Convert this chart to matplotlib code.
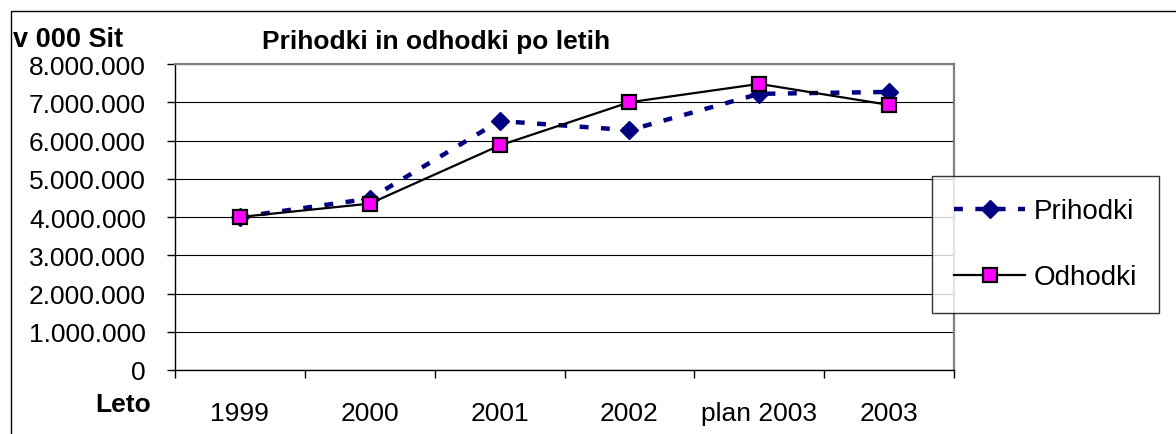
import matplotlib.pyplot as plt
import matplotlib.patches as patches
from matplotlib.ticker import FuncFormatter, FixedLocator

plt.rcParams['font.family'] = ['Liberation Sans', 'DejaVu Sans']

leta = ['1999', '2000', '2001', '2002', 'plan 2003', '2003']
prihodki = [4000000, 4480000, 6510000, 6270000, 7220000, 7270000]
odhodki = [4000000, 4350000, 5870000, 7000000, 7480000, 6930000]

W, H = 1176, 435
fig = plt.figure(figsize=(W / 100, H / 100), dpi=100)
ax = fig.add_axes([175 / W, 1 - 371 / H, (954 - 175) / W, (371 - 65) / H])

x = list(range(len(leta)))
ax.plot(x, prihodki, color='#000080', lw=3.2, dashes=(2.0, 2.8),
        marker='D', markersize=9, markeredgecolor='#000080', label='Prihodki', zorder=3)
ax.plot(x, odhodki, color='black', lw=1.6,
        marker='s', markersize=10, markerfacecolor='#ff00ff', markeredgecolor='black',
        markeredgewidth=1.6, label='Odhodki', zorder=4)

ax.set_xlim(-0.5, len(leta) - 0.5)
ax.set_ylim(0, 8000000)
ax.set_yticks(range(0, 8000001, 1000000))
ax.yaxis.set_major_formatter(FuncFormatter(lambda v, p: f'{int(v):,}'.replace(',', '.')))
ax.set_xticks(x)
ax.set_xticklabels(leta)
ax.xaxis.set_minor_locator(FixedLocator([i - 0.5 for i in range(len(leta) + 1)]))
ax.tick_params(axis='x', which='major', length=0, pad=22, labelsize=19)
ax.tick_params(axis='x', which='minor', length=6, width=1, direction='out')
ax.tick_params(axis='y', length=6, width=1, direction='out', pad=15, labelsize=19)

ax.grid(axis='y', color='black', lw=0.8)
ax.set_axisbelow(True)
for s in ['top', 'right']:
    ax.spines[s].set_color('#808080')
    ax.spines[s].set_linewidth(1.6)
for s in ['left', 'bottom']:
    ax.spines[s].set_color('black')
    ax.spines[s].set_linewidth(1)

fig.text(262 / W, 1 - 49 / H, 'Prihodki in odhodki po letih', fontsize=19,
         fontweight='bold', va='baseline', ha='left')
fig.text(13 / W, 1 - 47 / H, 'v 000 Sit', fontsize=19.5,
         fontweight='bold', va='baseline', ha='left')
fig.text(95 / W, 1 - 412 / H, 'Leto', fontsize=19,
         fontweight='bold', va='baseline', ha='left')

leg = fig.legend(loc='upper left', bbox_to_anchor=(932 / W, 1 - 177 / H),
                 fontsize=20, frameon=True, fancybox=False, handlelength=2.55,
                 handletextpad=0.3, labelspacing=1.45,
                 borderpad=0.8, borderaxespad=0)
leg.get_frame().set_edgecolor('black')
leg.get_frame().set_linewidth(1)

fig.add_artist(patches.Rectangle((11 / W, -0.5), 2, 1.5 - 12 / H, transform=fig.transFigure,
                                 fill=False, edgecolor='black', lw=1, clip_on=False))

fig.savefig('out.png', dpi=100)
